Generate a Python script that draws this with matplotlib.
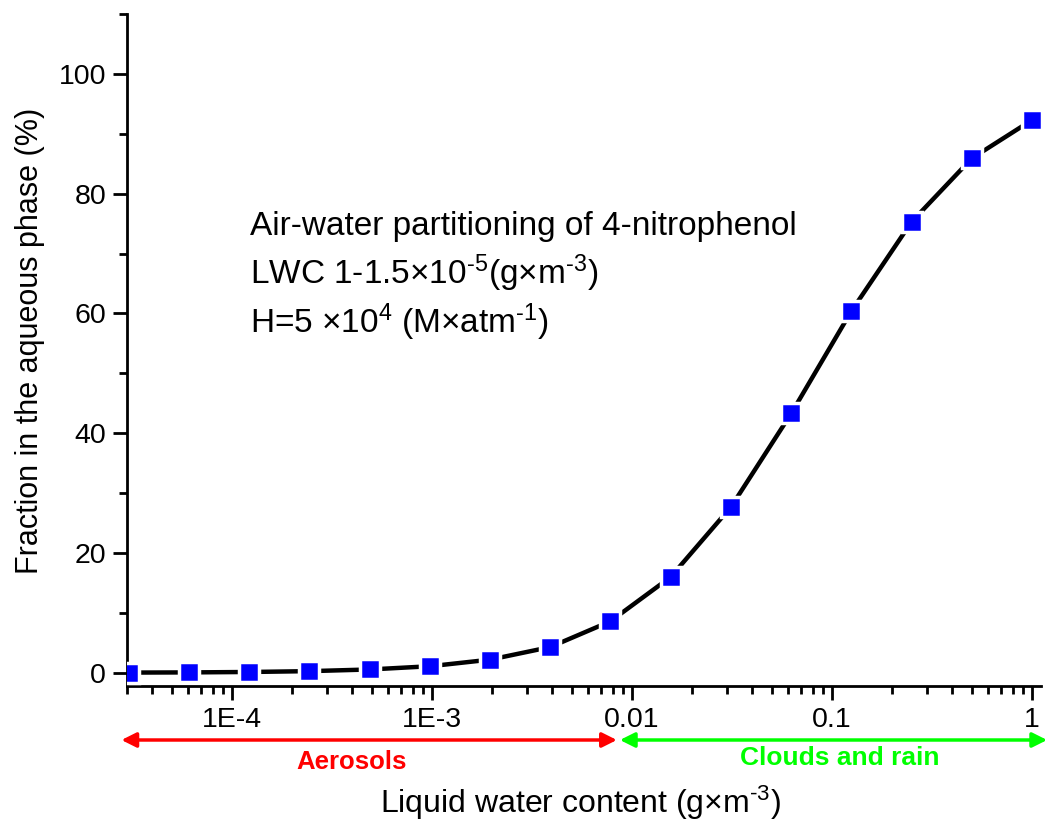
import numpy as np
import matplotlib.pyplot as plt
import matplotlib.transforms as mtransforms
from matplotlib.ticker import LogLocator, FixedLocator, MultipleLocator

# 数据：液态水含量 (g/m3) 与水相中的分配比例 (%)
lwc = [3.05e-5, 6.1e-5, 1.22e-4, 2.44e-4, 4.88e-4, 9.77e-4, 1.95e-3, 3.9e-3,
       7.8e-3, 0.0156, 0.03125, 0.0625, 0.125, 0.25, 0.5, 1.0]
fraction = [0.04, 0.07, 0.14, 0.28, 0.56, 1.1, 2.2, 4.3,
            8.6, 16.0, 27.7, 43.3, 60.4, 75.3, 85.9, 92.3]
xtick_vals = [1e-4, 1e-3, 1e-2, 1e-1, 1]
xtick_labels = ['1E-4', '1E-3', '0.01', '0.1', '1']


def main():
    plt.rcParams['font.family'] = ['Liberation Sans', 'DejaVu Sans']
    plt.rcParams['mathtext.fontset'] = 'custom'
    plt.rcParams['mathtext.rm'] = 'Liberation Sans'
    plt.rcParams['mathtext.default'] = 'rm'

    fig = plt.figure(figsize=(10.47, 8.24), dpi=100)
    ax = fig.add_axes([127 / 1047, 1 - 686 / 824, (1041 - 127) / 1047, (686 - 14) / 824])

    ax.plot(lwc, fraction, color='black', lw=3.2, marker='s', ms=14,
            mfc='#0000ff', mec='white', mew=2.5, zorder=3)

    ax.set_xscale('log')
    ax.set_xlim(2.985e-5, 1.109)
    ax.set_ylim(-2.2, 110)

    ax.xaxis.set_major_locator(FixedLocator(xtick_vals))
    ax.set_xticklabels(xtick_labels)
    ax.xaxis.set_minor_locator(LogLocator(base=10, subs=np.arange(2, 10), numticks=20))
    ax.yaxis.set_major_locator(MultipleLocator(20))
    ax.yaxis.set_minor_locator(MultipleLocator(10))

    for s in ['top', 'right']:
        ax.spines[s].set_visible(False)
    for s in ['left', 'bottom']:
        ax.spines[s].set_linewidth(2)
    ax.tick_params(which='major', length=10, width=2, labelsize=20.5, direction='out', pad=5)
    ax.tick_params(which='minor', length=5.5, width=2, direction='out')

    ax.set_ylabel('Fraction in the aqueous phase (%)', fontsize=22, labelpad=10)
    ax.yaxis.label.set_y(0.513)
    fig.text(580 / 1047, 1 - 803 / 824, r'Liquid water content (g×m$^{\text{-3}}$)',
             fontsize=23, ha='center', va='center')

    # 注释文字
    ax.text(250 / 1047, 1 - 226 / 824, 'Air-water partitioning of 4-nitrophenol',
            transform=fig.transFigure, fontsize=24, va='center')
    ax.text(250 / 1047, 1 - 273 / 824, r'LWC 1-1.5×10$^{\text{-5}}$(g×m$^{\text{-3}}$)',
            transform=fig.transFigure, fontsize=24, va='center')
    ax.text(250 / 1047, 1 - 322 / 824, r'H=5 ×10$^{4}$ (M×atm$^{\text{-1}}$)',
            transform=fig.transFigure, fontsize=24, va='center')

    # 底部双向箭头：气溶胶 / 云和雨
    trans = mtransforms.blended_transform_factory(ax.transData, fig.transFigure)
    y_arr = 1 - 740 / 824
    ax.annotate('', xy=(2.8e-5, y_arr), xytext=(0.0084, y_arr), xycoords=trans,
                textcoords=trans, annotation_clip=False,
                arrowprops=dict(arrowstyle='<|-|>', color='#ff0000', lw=2.5,
                                mutation_scale=22, shrinkA=0, shrinkB=0))
    ax.annotate('', xy=(0.0087, y_arr), xytext=(1.19, y_arr), xycoords=trans,
                textcoords=trans, annotation_clip=False,
                arrowprops=dict(arrowstyle='<|-|>', color='#00ff00', lw=2.5,
                                mutation_scale=22, shrinkA=0, shrinkB=0))
    fig.text(352 / 1047, 1 - 762 / 824, 'Aerosols', color='#ff0000',
             fontsize=18.5, fontweight='bold', ha='center', va='center')
    fig.text(840 / 1047, 1 - 758 / 824, 'Clouds and rain', color='#00ff00',
             fontsize=19, fontweight='bold', ha='center', va='center')

    fig.savefig('out.png', dpi=100)


if __name__ == '__main__':
    main()
